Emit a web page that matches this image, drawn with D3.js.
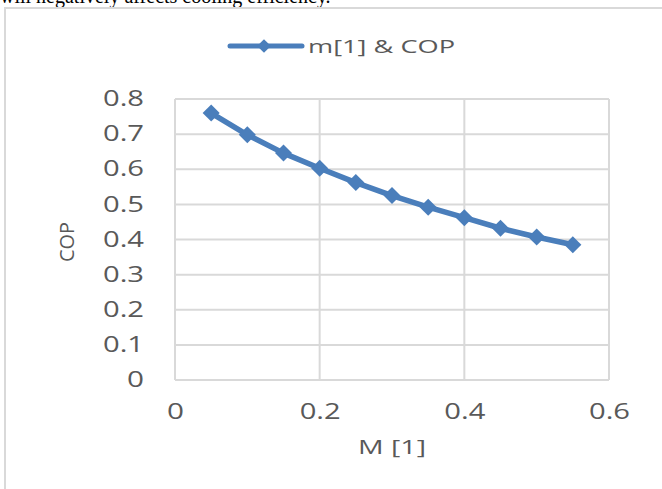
<!DOCTYPE html>
<html><head><meta charset="utf-8">
<script src="https://cdn.jsdelivr.net/npm/d3@7"></script>
<style>html,body{margin:0;padding:0;background:#fff;overflow:hidden}</style>
</head><body>
<svg id="c" width="662" height="489"></svg>
<script>
const xValues = [0.05, 0.10, 0.15, 0.20, 0.25, 0.30, 0.35, 0.40, 0.45, 0.50, 0.55];
const copValues = [0.760, 0.698, 0.646, 0.603, 0.562, 0.525, 0.492, 0.462, 0.432, 0.407, 0.385];
const xTicks = [0, 0.2, 0.4, 0.6];
const yTicks = [0, 0.1, 0.2, 0.3, 0.4, 0.5, 0.6, 0.7, 0.8];
const seriesName = "m[1] & COP";
const xTitle = "M [1]";
const yTitle = "COP";
const captionText = "will negatively affects cooling efficiency.";

const svg = d3.select("#c");
const blue = "#4a7ebb", grid = "#d9d9d9", txt = "#595959";
const font = "'Open Sans', sans-serif";
const fmt = d => String(+(+d).toFixed(1));

// caption text cut off at top of the crop
svg.append("text").attr("x", 0).attr("y", 3).attr("font-family", "'Liberation Serif', serif")
  .attr("font-size", 20).attr("fill", "#000").text(captionText);

// chart border
svg.append("rect").attr("x", 5).attr("y", 8).attr("width", 700).attr("height", 520)
  .attr("fill", "none").attr("stroke", grid).attr("stroke-width", 2);

const x = d3.scaleLinear().domain([0, 0.6]).range([175, 609]);
const y = d3.scaleLinear().domain([0, 0.8]).range([380, 99]);

// gridlines
svg.append("g").selectAll("line").data(yTicks).join("line")
  .attr("x1", x(0)).attr("x2", x(0.6)).attr("y1", d => y(d)).attr("y2", d => y(d))
  .attr("stroke", grid).attr("stroke-width", 2);
svg.append("g").selectAll("line").data(xTicks).join("line")
  .attr("y1", y(0)).attr("y2", y(0.8)).attr("x1", d => x(d)).attr("x2", d => x(d))
  .attr("stroke", grid).attr("stroke-width", 2);

const widthFor = d => (fmt(d).length === 1 ? 17 : 41);

const yAxis = svg.append("g").attr("transform", `translate(${x(0) - 31},0)`)
  .call(d3.axisLeft(y).tickValues(yTicks).tickFormat(fmt).tickSize(0).tickPadding(0));
yAxis.select(".domain").remove();
yAxis.selectAll("text").attr("font-family", font).attr("font-size", 21).attr("fill", txt)
  .attr("textLength", widthFor).attr("lengthAdjust", "spacingAndGlyphs");

const xAxis = svg.append("g").attr("transform", `translate(0,${y(0) + 24})`)
  .call(d3.axisBottom(x).tickValues(xTicks).tickFormat(fmt).tickSize(0).tickPadding(0));
xAxis.select(".domain").remove();
xAxis.selectAll("text").attr("font-family", font).attr("font-size", 21).attr("fill", txt)
  .attr("textLength", widthFor).attr("lengthAdjust", "spacingAndGlyphs");

// titles
svg.append("text").attr("x", 392).attr("y", 454).attr("text-anchor", "middle")
  .attr("font-family", font).attr("font-size", 20).attr("fill", txt)
  .attr("textLength", 68).attr("lengthAdjust", "spacingAndGlyphs").text(xTitle);
svg.append("text").attr("transform", "translate(74,242) rotate(-90)").attr("text-anchor", "middle")
  .attr("font-family", font).attr("font-size", 20).attr("fill", txt)
  .attr("textLength", 40).attr("lengthAdjust", "spacingAndGlyphs").text(yTitle);

// series
const data = xValues.map((v, i) => [v, copValues[i]]);
svg.append("path").datum(data)
  .attr("d", d3.line().x(d => x(d[0])).y(d => y(d[1])))
  .attr("fill", "none").attr("stroke", blue).attr("stroke-width", 5.5).attr("stroke-linejoin", "round");
const diamond = d3.symbol().type(d3.symbolDiamond2).size(185);
svg.append("g").selectAll("path").data(data).join("path")
  .attr("transform", d => `translate(${x(d[0])},${y(d[1])})`)
  .attr("d", diamond).attr("fill", blue);

// legend
svg.append("line").attr("x1", 230).attr("x2", 302).attr("y1", 46).attr("y2", 46)
  .attr("stroke", blue).attr("stroke-width", 5).attr("stroke-linecap", "round");
svg.append("path").attr("transform", "translate(264,46)").attr("d", d3.symbol().type(d3.symbolDiamond2).size(120)).attr("fill", blue);
svg.append("text").attr("x", 308).attr("y", 53).attr("font-family", font).attr("font-size", 19)
  .attr("fill", txt).attr("textLength", 147).attr("lengthAdjust", "spacingAndGlyphs").text(seriesName);
</script>
</body></html>
